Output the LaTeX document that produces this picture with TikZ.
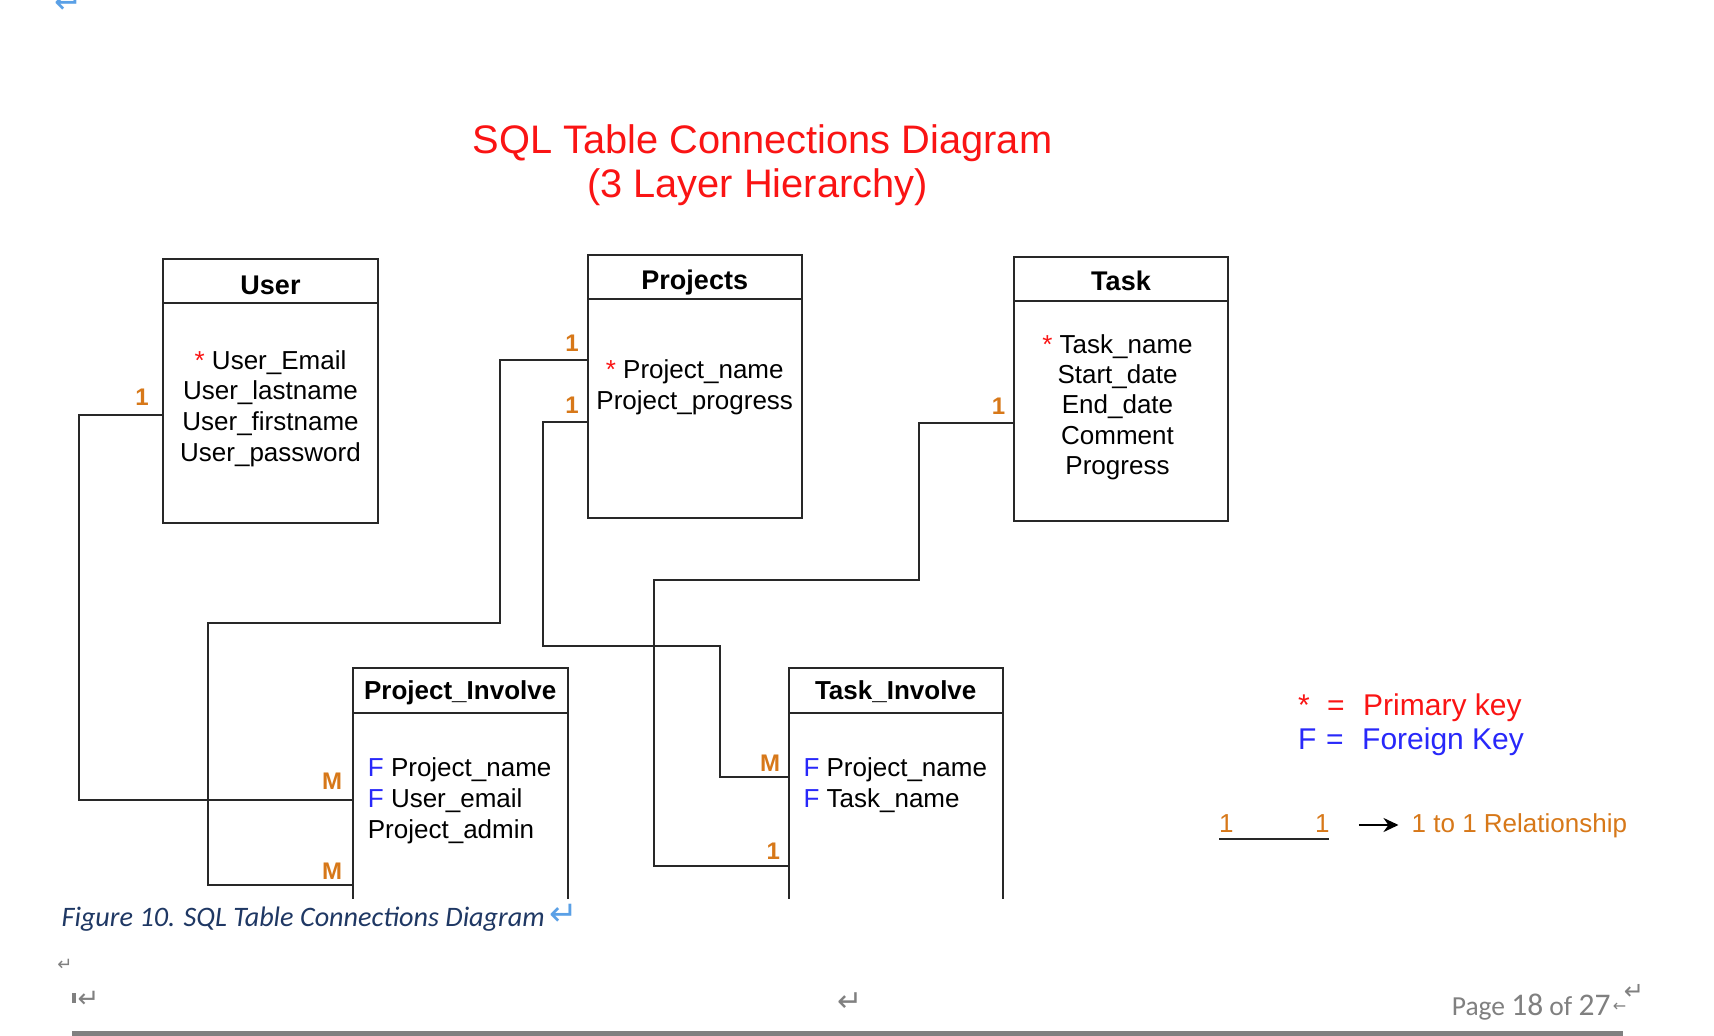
\documentclass[tikz,border=0pt]{standalone}
\usepackage{fontspec}
\setmainfont{Liberation Sans}
\newfontfamily\calib{Carlito}
\newfontfamily\dejavu{DejaVu Sans}
\usetikzlibrary{arrows.meta}
\definecolor{lnc}{RGB}{40,40,40}
\definecolor{lblorange}{RGB}{215,120,25}
\definecolor{pkred}{RGB}{250,20,20}
\definecolor{fkblue}{RGB}{40,40,250}
\definecolor{capblue}{RGB}{31,56,100}
\definecolor{retblue}{RGB}{90,160,230}
\definecolor{footgray}{RGB}{128,128,128}
\begin{document}
\begin{tikzpicture}[x=1pt,y=-1pt,
  tablebox/.style={draw=lnc,line width=2pt,inner sep=0pt,outer sep=0pt,anchor=north west},
  ttl/.style={font=\bfseries\fontsize{27}{30}\selectfont,anchor=base,inner sep=0pt},
  ittl/.style={font=\bfseries\fontsize{26}{30}\selectfont,anchor=base,inner sep=0pt},
  fld/.style={font=\fontsize{26}{30}\selectfont,anchor=base,inner sep=0pt},
  lfld/.style={font=\fontsize{26}{30}\selectfont,anchor=base west,inner sep=0pt},
  lbl/.style={font=\bfseries\fontsize{24}{26}\selectfont,text=lblorange,inner sep=0pt},
  conn/.style={draw=lnc,line width=2pt},
  sepline/.style={draw=lnc,line width=2pt},
  retmark/.style={font=\dejavu\fontsize{34}{36}\selectfont,inner sep=0pt,anchor=center}
]
\fill[white] (0,0) rectangle (1714,1036);
\useasboundingbox (0,0) rectangle (1714,1036);

% top-left return mark (cut off at the top edge, as in the page)
\node[retmark,text=retblue] (rtop) at (69,3) {↵};

% Title
\node[font=\fontsize{39.8}{44}\selectfont,text=pkred,anchor=base,inner sep=0pt] (t1) at (762.5,153) {SQL Table Connections Diagram};
\node[font=\fontsize{39.8}{44}\selectfont,text=pkred,anchor=base,inner sep=0pt] (t2) at (757.5,197) {(3 Layer Hierarchy)};

\begin{scope}
\clip (0,0) rectangle (1714,898.5);
% tables
\node[tablebox,minimum width=215pt,minimum height=264pt] (user) at (163,259) {};
\node[tablebox,minimum width=214.5pt,minimum height=263pt] (proj) at (587.5,255) {};
\node[tablebox,minimum width=214pt,minimum height=264pt] (task) at (1014,257) {};
\node[tablebox,minimum width=214.5pt,minimum height=320pt] (pinv) at (353,668) {};
\node[tablebox,minimum width=214.5pt,minimum height=320pt] (tinv) at (788.5,668) {};

\draw[sepline] ([yshift=-44pt]user.north west) -- ([yshift=-44pt]user.north east);
\draw[sepline] ([yshift=-44pt]proj.north west) -- ([yshift=-44pt]proj.north east);
\draw[sepline] ([yshift=-44pt]task.north west) -- ([yshift=-44pt]task.north east);
\draw[sepline] ([yshift=-44.7pt]pinv.north west) -- ([yshift=-44.7pt]pinv.north east);
\draw[sepline] ([yshift=-44.7pt]tinv.north west) -- ([yshift=-44.7pt]tinv.north east);

% titles
\node[ttl] (userT) at (270.5,294.3) {User};
\node[ttl] (projT) at (694.75,289.3) {Projects};
\node[ttl] (taskT) at (1121,290.7) {Task};
\node[ittl] (pinvT) at (460.2,699.3) {Project\_Involve};
\node[ittl] (tinvT) at (895.7,699.3) {Task\_Involve};

% User fields
\node[fld] (u1) at (270.5,369) {\textcolor{pkred}{*} User\_Email};
\node[fld] (u2) at (270.5,399.5) {User\_lastname};
\node[fld] (u3) at (270.5,430.5) {User\_firstname};
\node[fld] (u4) at (270.5,461) {User\_password};
% Projects fields
\node[fld] (p1) at (694.75,378.3) {\textcolor{pkred}{*} Project\_name};
\node[fld] (p2) at (694.75,409.3) {Project\_progress};
% Task fields
\node[fld] (k1) at (1117.5,353.3) {\textcolor{pkred}{*} Task\_name};
\node[fld] (k2) at (1117.5,383) {Start\_date};
\node[fld] (k3) at (1117.5,413.5) {End\_date};
\node[fld] (k4) at (1117.5,444) {Comment};
\node[fld] (k5) at (1117.5,474.5) {Progress};
% Project_Involve fields
\node[lfld] (pi1) at (367.7,776.7) {\textcolor{fkblue}{F} Project\_name};
\node[lfld] (pi2) at (367.7,807.3) {\textcolor{fkblue}{F} User\_email};
\node[lfld] (pi3) at (367.7,838.3) {Project\_admin};
% Task_Involve fields
\node[lfld] (ti1) at (803.3,776.7) {\textcolor{fkblue}{F} Project\_name};
\node[lfld] (ti2) at (803.3,807.3) {\textcolor{fkblue}{F} Task\_name};

% connectors
\draw[conn] ([yshift=-24pt]user.west) -| (79,800) -- ([yshift=-132pt]pinv.north west);
\draw[conn] ([yshift=-105pt]proj.north west) -| (499.5,623) -| (207.8,884.7) -- ([yshift=-216.7pt]pinv.north west);
\draw[conn] ([yshift=-166.7pt]proj.north west) -| (543.3,645.5) -| (720,777.3) -- ([yshift=-109.3pt]tinv.north west);
\draw[conn] ([yshift=-166.3pt]task.north west) -| (919,579.5) -| (654,865.7) -- ([yshift=-197.7pt]tinv.north west);

% cardinality labels
\node[lbl] (l1) at (142,397) {1};
\node[lbl] (l2) at (332,781.7) {M};
\node[lbl] (l3) at (572,343) {1};
\node[lbl] (l4) at (332,871) {M};
\node[lbl] (l5) at (572,405) {1};
\node[lbl] (l6) at (770,763.3) {M};
\node[lbl] (l7) at (998.5,406.5) {1};
\node[lbl] (l8) at (773.3,851.7) {1};

% legend
\node[font=\fontsize{30}{32}\selectfont,text=pkred,anchor=base west,inner sep=0pt] (lgs) at (1298,715) {*};
\node[font=\fontsize{30}{32}\selectfont,text=pkred,anchor=base west,inner sep=0pt] (lge1) at (1327,715) {=};
\node[font=\fontsize{30}{32}\selectfont,text=pkred,anchor=base west,inner sep=0pt] (lgp) at (1363,715) {Primary key};
\node[font=\fontsize{30}{32}\selectfont,text=fkblue,anchor=base west,inner sep=0pt] (lgf) at (1298,749.3) {F};
\node[font=\fontsize{30}{32}\selectfont,text=fkblue,anchor=base west,inner sep=0pt] (lge2) at (1326,749.3) {=};
\node[font=\fontsize{30}{32}\selectfont,text=fkblue,anchor=base west,inner sep=0pt] (lgk) at (1362,749.3) {Foreign Key};

\node[font=\fontsize{26}{28}\selectfont,text=lblorange,anchor=base west,inner sep=0pt] (r1a) at (1219,832.7) {1};
\node[font=\fontsize{26}{28}\selectfont,text=lblorange,anchor=base west,inner sep=0pt] (r1b) at (1315,832.7) {1};
\node[font=\fontsize{26}{28}\selectfont,text=lblorange,anchor=base west,inner sep=0pt] (rtxt) at (1411.5,832.7) {1 to 1 Relationship};
\draw[line width=2pt,draw=lnc] ([yshift=-6.6pt]r1a.base west) -- ([yshift=-6.6pt,xshift=14pt]r1b.base west);
\draw[line width=2.5pt,draw=black,-{Stealth[length=15pt,width=14pt]}] ([xshift=29pt,yshift=7.7pt]r1b.base east) -- ([xshift=-13pt,yshift=7.7pt]rtxt.base west);
\end{scope}

% caption
\node[font=\calib\itshape\fontsize{28.2}{30}\selectfont,text=capblue,anchor=base west,inner sep=0pt] (cap) at (61.4,926.7) {Figure 10. SQL Table Connections Diagram};
\node[retmark,text=retblue,anchor=west] (rcap) at ([xshift=4pt]cap.east |- 0,915) {↵};
\node[retmark,font=\dejavu\fontsize{18}{20}\selectfont,text=footgray] (rpara) at (65,965) {↵};

% footer
\fill[footgray] (72.3,993) rectangle (75.7,1002.7);
\node[retmark,font=\dejavu\fontsize{26}{28}\selectfont,text=footgray] (rf1) at (88.5,999.5) {↵};
\node[retmark,font=\dejavu\fontsize{30}{32}\selectfont,text=footgray] (rf2) at (850,1002) {↵};
\node[font=\calib\fontsize{27.5}{30}\selectfont,text=footgray,anchor=base west,inner sep=0pt] (page) at (1451.7,1015) {Page {\fontsize{31.5}{30}\selectfont 18} of {\fontsize{31.5}{30}\selectfont 27}};
\node[font=\dejavu\fontsize{16}{18}\selectfont,text=footgray,anchor=center,inner sep=0pt] (tabm) at (1619.5,1007) {←};
\node[retmark,font=\dejavu\fontsize{24}{26}\selectfont,text=footgray] (rsup) at (1634,991.5) {↵};
\fill[footgray] (72.3,1031) rectangle (1623.3,1036);
\end{tikzpicture}
\end{document}
